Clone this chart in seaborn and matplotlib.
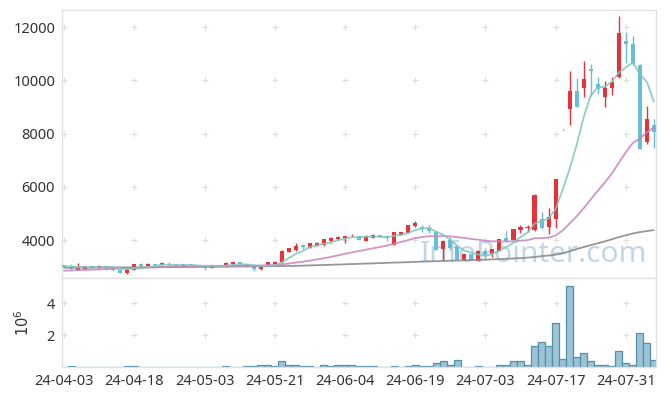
import numpy as np
import pandas as pd
import matplotlib
matplotlib.use("Agg")
import matplotlib.pyplot as plt
import seaborn as sns

dates = ['24-04-03','24-04-04','24-04-05','24-04-08','24-04-09','24-04-11','24-04-12','24-04-15','24-04-16','24-04-17',
         '24-04-18','24-04-19','24-04-22','24-04-23','24-04-24','24-04-25','24-04-26','24-04-29','24-04-30','24-05-02',
         '24-05-03','24-05-07','24-05-08','24-05-09','24-05-10','24-05-13','24-05-14','24-05-16','24-05-17','24-05-20',
         '24-05-21','24-05-22','24-05-23','24-05-24','24-05-27','24-05-28','24-05-29','24-05-30','24-05-31','24-06-03',
         '24-06-04','24-06-05','24-06-07','24-06-10','24-06-11','24-06-12','24-06-13','24-06-14','24-06-17','24-06-18',
         '24-06-19','24-06-20','24-06-21','24-06-24','24-06-25','24-06-26','24-06-27','24-06-28','24-07-01','24-07-02',
         '24-07-03','24-07-04','24-07-05','24-07-08','24-07-09','24-07-10','24-07-11','24-07-12','24-07-15','24-07-16',
         '24-07-17','24-07-18','24-07-19','24-07-22','24-07-23','24-07-24','24-07-25','24-07-26','24-07-29','24-07-30',
         '24-07-31','24-08-01','24-08-02','24-08-05','24-08-06']

opens = [3060,3020,2890,2930,3020,2990,3030,2980,2880,2780,
         2890,3100,3020,3090,3080,3100,3070,2990,3100,3060,
         3040,2960,3020,3010,3090,3170,3090,3040,2900,3020,
         3110,3160,3560,3610,3820,3720,3790,3820,3960,4030,
         4080,4140,4150,3960,4090,4180,4160,3820,4210,4270,
         4520,4480,4460,4310,3650,4000,3770,3270,3460,3230,
         3600,3460,3600,4090,4000,4370,4470,4370,4810,4500,
         4790,8160,8930,9590,9710,10450,9880,9380,9710,10120,
         11500,11360,10600,7680,8310]

highs = [3080,3090,3130,3030,3050,3050,3040,3000,2890,2990,
         3110,3130,3150,3110,3190,3190,3090,3090,3110,3070,
         3050,3070,3040,3180,3170,3190,3100,3050,3010,3180,
         3200,3610,3700,3880,3870,3900,3910,4050,4100,4160,
         4170,4220,4170,4200,4220,4200,4170,4310,4310,4580,
         4720,4560,4570,4330,3990,4120,3780,3490,3470,3610,
         3690,3670,4050,4350,4420,4560,4560,5750,5050,5190,
         6300,8180,10340,10100,10740,10630,10130,9980,10150,12440,
         11840,11680,10620,9030,8560]

lows = [2970,2890,2880,2920,2960,2930,2890,2840,2770,2730,
        2880,2980,3010,3040,3070,3040,3000,2980,3040,3000,
        2860,2950,3010,3000,3080,3100,2970,2850,2890,3010,
        3100,3150,3540,3600,3650,3700,3780,3780,3880,4020,
        3880,4130,3990,3950,4080,4100,3950,3800,4200,4260,
        4510,4320,4250,3610,3250,3620,3240,3260,3240,3200,
        3250,3370,3590,3950,3990,4250,4310,4350,4400,4220,
        4460,8150,8310,8990,9380,9400,9500,9000,9450,10100,
        10650,10600,7430,7630,7480]

closes = [2990,2900,2980,3020,2990,3000,2990,2890,2780,2890,
          3100,3020,3100,3050,3140,3050,3020,3080,3060,3020,
          2960,3060,3030,3140,3160,3110,2980,2900,3000,3170,
          3160,3600,3690,3780,3750,3880,3880,4030,4070,4130,
          4160,4170,4000,4150,4200,4110,4060,4300,4300,4560,
          4650,4400,4350,3620,3970,3720,3250,3470,3250,3600,
          3440,3650,4040,3960,4410,4500,4510,5700,4470,4850,
          6290,8170,9590,9000,10060,10350,9690,9710,9940,11780,
          11360,10620,7440,8540,8060]

# volume in millions of shares
volumes = [0.01,0.04,0.01,0.01,0.01,0.01,0.01,0.01,0.01,0.04,
           0.04,0.01,0.01,0.01,0.01,0.01,0.01,0.01,0.01,0.01,
           0.01,0.01,0.01,0.04,0.01,0.01,0.04,0.04,0.10,0.10,
           0.08,0.36,0.10,0.10,0.04,0.04,0.01,0.10,0.04,0.10,
           0.10,0.10,0.04,0.09,0.09,0.02,0.02,0.09,0.02,0.09,
           0.15,0.09,0.09,0.28,0.40,0.15,0.47,0.02,0.02,0.09,
           0.02,0.02,0.15,0.15,0.40,0.40,0.15,1.29,1.60,1.29,
           2.74,0.53,5.07,0.66,0.91,0.40,0.15,0.15,0.09,1.03,
           0.28,0.15,2.17,1.54,0.47]

ma5 = [3020,2995,2985,2990,2976,2978,2996,2978,2930,2910,
       2930,2936,2978,3032,3082,3072,3072,3068,3070,3046,
       3028,3036,3026,3042,3070,3100,3084,3058,3030,3032,
       3042,3166,3324,3480,3596,3740,3796,3864,3922,3998,
       4054,4112,4106,4122,4136,4126,4104,4164,4194,4266,
       4374,4442,4452,4316,4198,4012,3782,3606,3532,3458,
       3402,3482,3596,3738,3900,4112,4284,4616,4718,4806,
       5164,5896,6674,7580,8622,9434,9738,9762,9950,10294,
       10496,10682,10228,9948,9204]

ma20 = [2850,2858,2868,2878,2888,2898,2908,2918,2928,2938,
        2948,2958,2966,2974,2982,2988,2994,2998,3002,3004,
        3002,3010,3013,3019,3027,3033,3032,3033,3044,3058,
        3061,3090,3119,3156,3186,3228,3271,3318,3369,3424,
        3484,3540,3588,3639,3691,3741,3795,3865,3930,3999,
        4074,4114,4147,4139,4150,4142,4110,4082,4041,4015,
        3979,3953,3955,3945,3956,3975,3998,4068,4076,4091,
        4173,4361,4623,4892,5197,5528,5850,6162,6497,6906,
        7302,7650,7820,8049,8232]

ma_long = [2960,2962,2964,2966,2968,2970,2972,2973,2974,2975,
           2977,2979,2981,2983,2985,2987,2989,2991,2993,2995,
           2997,2999,3001,3003,3005,3008,3010,3012,3014,3017,
           3020,3024,3028,3033,3040,3048,3056,3064,3072,3081,
           3090,3099,3108,3117,3126,3135,3145,3155,3162,3170,
           3180,3190,3200,3208,3216,3224,3232,3240,3248,3256,
           3265,3275,3285,3296,3310,3325,3340,3365,3395,3420,
           3450,3500,3580,3660,3740,3810,3880,3950,4030,4110,
           4180,4250,4300,4340,4375]

price_ticks = [4000, 6000, 8000, 10000, 12000]
vol_ticks = [2, 4]

sns.set_theme(style="white")
plt.rcParams['font.family'] = ['Noto Sans', 'DejaVu Sans']

df = pd.DataFrame({"i": np.arange(len(dates)), "date": dates, "open": opens, "high": highs,
                   "low": lows, "close": closes, "vol": volumes,
                   "ma5": ma5, "ma20": ma20, "malong": ma_long})

W, H = 665, 396
fig = plt.figure(figsize=(W / 100, H / 100), dpi=100)
L, R = 62, 656
ax = fig.add_axes([L / W, 1 - 278 / H, (R - L) / W, 268 / H])
axv = fig.add_axes([L / W, 1 - 367 / H, (R - L) / W, 89 / H])

RED = '#e8323a'
BLUE = '#67bed9'
up = df["close"] >= df["open"]
cols = np.where(up, RED, BLUE)

# grid crosses
gx, gy = np.meshgrid(df["i"].values[::10], price_ticks)
ax.scatter(gx.ravel(), gy.ravel(), marker='+', s=14, color='#dedede', linewidths=0.8, zorder=0)
gx2, gy2 = np.meshgrid(df["i"].values[::10], vol_ticks)
axv.scatter(gx2.ravel(), gy2.ravel(), marker='+', s=14, color='#dedede', linewidths=0.8, zorder=0)

# watermark
ax.text(0.985, 0.035, 'InfoPointer.com', transform=ax.transAxes, ha='right', va='bottom',
        fontsize=21.5, color='#b8cfe0', alpha=0.85, zorder=1)

# candles
ax.vlines(df["i"], df["low"], df["high"], colors=cols, linewidth=1.0, zorder=2)
body_bottom = np.minimum(df["open"], df["close"])
body_h = np.maximum(np.abs(df["close"] - df["open"]), 30)
ax.bar(df["i"], body_h, bottom=body_bottom, width=0.58, color=cols, linewidth=0, zorder=3)

# moving averages
sns.lineplot(data=df, x="i", y="malong", ax=ax, color='#8c8c8c', linewidth=1.3, alpha=0.9, zorder=4)
sns.lineplot(data=df, x="i", y="ma20", ax=ax, color='#c982c0', linewidth=1.3, alpha=0.85, zorder=4)
sns.lineplot(data=df, x="i", y="ma5", ax=ax, color='#7fc6ba', linewidth=1.3, alpha=0.85, zorder=5)

# volume
sns.barplot(data=df, x="i", y="vol", ax=axv, native_scale=True, width=1.0, color='#9cc3d4',
            edgecolor='#5190ad', linewidth=0.9, saturation=1, errorbar=None, zorder=2)

xlim = (-0.3, 84.3)
for a in (ax, axv):
    a.set_xlim(*xlim)
    for s in a.spines.values():
        s.set_color('#e2e2e2')
        s.set_linewidth(1.0)
    a.tick_params(length=0, labelsize=10.5, labelcolor='#333333', pad=5)

ax.set_ylim(2575, 12650)
ax.set_yticks(price_ticks)
ax.set_yticklabels([str(t) for t in price_ticks])
ax.set_xticks(df["i"].values[::10])
ax.set_xticklabels([])
ax.set_xlabel('')
ax.set_ylabel('')

axv.set_ylim(0, 5.6)
axv.set_yticks(vol_ticks)
axv.set_yticklabels([str(t) for t in vol_ticks])
axv.set_xticks(df["i"].values[::10])
axv.set_xticklabels(df["date"].values[::10])
axv.set_xlabel('')
axv.set_ylabel('$10^6$', fontsize=10.5, color='#333333', labelpad=10)

fig.savefig('out.png', dpi=100)
